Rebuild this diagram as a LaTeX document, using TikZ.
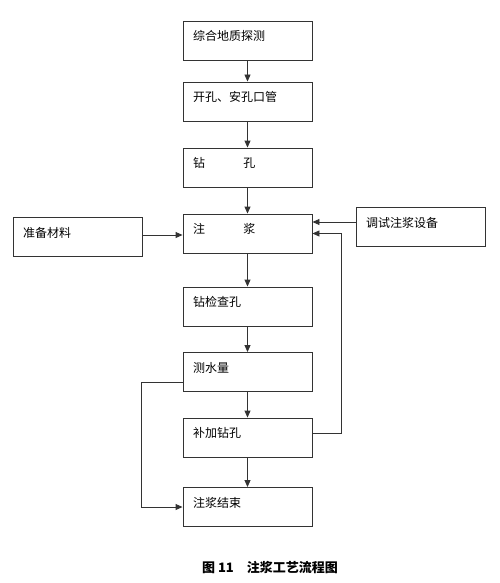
\documentclass[tikz,border=0pt]{standalone}
\usepackage{fontspec}
\setmainfont{Noto Sans CJK SC}
\usetikzlibrary{arrows.meta,calc}
\begin{document}
\begin{tikzpicture}[x=1pt,y=-1pt,
  box/.style={draw=black!80,line width=0.9pt,minimum width=129pt,minimum height=39pt,
    text width=109pt,inner xsep=10pt,align=left,text height=9pt,text depth=9pt,
    font=\fontsize{12pt}{13pt}\selectfont},
  conn/.style={draw=black!80,line width=0.9pt,-{Triangle[length=7pt,width=6pt]}}]
\useasboundingbox (0,0) rectangle (500,583);
\node[box] (a) at (247.5,41) {综合地质探测};
\node[box] (b) at (247.5,101.5) {开孔、安孔口管};
\node[box] (c) at (247.5,167.5) {钻\hspace{3.2em}孔};
\node[box] (d) at (247.5,233.5) {注\hspace{3.2em}浆};
\node[box] (m) at (77.5,237) {准备材料};
\node[box] (t) at (420.5,227) {调试注浆设备};
\node[box] (e) at (247.5,306.5) {钻检查孔};
\node[box] (f) at (247.5,372) {测水量};
\node[box] (g) at (247.5,437.5) {补加钻孔};
\node[box] (h) at (247.5,507) {注浆结束};
\draw[conn] (a) -- (b);
\draw[conn] (b) -- (c);
\draw[conn] (c) -- (d);
\draw[conn] (d) -- (e);
\draw[conn] (e) -- (f);
\draw[conn] (f) -- (g);
\draw[conn] (g) -- (h);
\coordinate (ms) at ([yshift=2pt]m.east);
\coordinate (ts) at ([yshift=5pt]t.west);
\coordinate (gs) at ([yshift=4pt]g.east);
\coordinate (fs) at ([yshift=-10pt]f.west);
\coordinate (r) at (341,0);
\coordinate (l) at (141,0);
\draw[conn] (ms) -- (d.west |- ms);
\draw[conn] (ts) -- (d.east |- ts);
\draw[conn] (gs) -- (r |- gs) -- (r |- d.east) -- (d.east);
\draw[conn] (fs) -- (l |- fs) -- (l |- h.west) -- (h.west);
\node[font=\fontsize{13pt}{15pt}\selectfont\bfseries] (cap) at (270,568) {图 11\hspace{1em}注浆工艺流程图};
\end{tikzpicture}
\end{document}
